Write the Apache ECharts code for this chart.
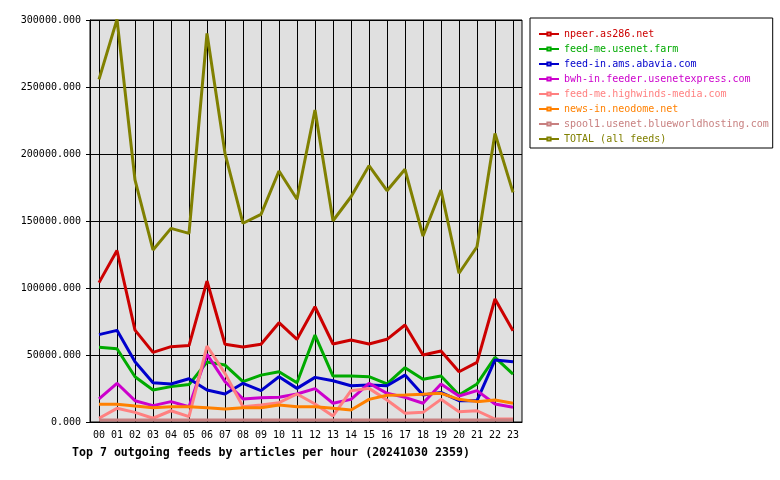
<!DOCTYPE html>
<html>
<head>
<meta charset="utf-8">
<script src="https://cdn.jsdelivr.net/npm/echarts@6/dist/echarts.min.js"></script>
<style>
html, body { margin: 0; padding: 0; background: #fff; }
#chart { width: 780px; height: 480px; }
</style>
</head>
<body>
<div id="chart"></div>
<script>
var hours = ['00','01','02','03','04','05','06','07','08','09','10','11',
             '12','13','14','15','16','17','18','19','20','21','22','23'];

var npeer    = [104000,128000,68600,52000,56200,57000,105200,58000,56000,58000,74100,61700,
                86000,58200,61200,58200,61700,72400,50000,53000,37500,44500,91800,68100];
var usenetFarm = [55700,54700,33800,23900,26400,27900,44800,42500,30100,35000,37500,29300,
                64900,34300,34300,33800,28400,40500,31900,34300,20100,28400,48300,35800];
var abavia   = [65200,68400,45000,29300,28400,32300,23900,20900,28900,23400,33800,25100,
                33300,30800,27100,27600,27100,35000,20100,22100,15900,15900,46300,45000];
var bwh      = [17200,28900,15900,12200,15200,11400,50500,30100,17200,18100,18400,20900,
                24900,14000,16900,28900,21400,18400,14000,28400,19400,23400,13400,11000];
var highwinds = [2800,10200,7200,2800,8400,4000,56700,36300,11400,12700,14400,20900,
                13400,4500,23400,25100,16400,6500,7200,16900,7700,8400,2200,2200];
var neodome  = [13200,13200,11900,10700,11400,11400,10700,9700,10700,10700,12700,11400,
                11400,10200,9000,16900,19900,20100,20700,21400,16900,15200,16400,14000];
var spool1   = [1500,1500,1500,1500,1500,1500,1500,1500,1500,1500,1500,1500,
                1500,1500,1500,1500,1500,1500,1500,1500,1500,1500,1500,1500];
var total    = [255700,300500,180600,128400,144500,140800,290000,200500,148300,155000,187300,166200,
                232800,150200,168100,191300,172600,188600,138800,173100,111000,130800,215400,171400];

var feedNames = ['npeer.as286.net','feed-me.usenet.farm','feed-in.ams.abavia.com',
                 'bwh-in.feeder.usenetexpress.com','feed-me.highwinds-media.com',
                 'news-in.neodome.net','spool1.usenet.blueworldhosting.com','TOTAL (all feeds)'];
var feedData = [npeer, usenetFarm, abavia, bwh, highwinds, neodome, spool1, total];
var feedColors = ['#cc0000','#00aa00','#0000cc','#cc00cc','#ff8080','#ff8000','#c88080','#808000'];

var mono = 'DejaVu Sans Mono';
var chart = echarts.init(document.getElementById('chart'));

var series = [];
var legendData = [];
for (var i = 0; i < feedNames.length; i++) {
    series.push({
        name: feedNames[i],
        type: 'line',
        xAxisIndex: 0,
        yAxisIndex: 0,
        data: feedData[i],
        symbol: 'emptyRect',
        symbolSize: 4,
        showSymbol: false,
        clip: false,
        color: feedColors[i],
        lineStyle: { width: 3, color: feedColors[i] }
    });
    legendData.push({ name: feedNames[i], textStyle: { color: feedColors[i] } });
}

chart.setOption({
    animation: false,
    title: {
        text: 'Top 7 outgoing feeds by articles per hour (20241030 2359)',
        left: 72,
        top: 447,
        padding: 0,
        textStyle: { fontFamily: mono, fontSize: 11.6, fontWeight: 'bold', color: '#000' }
    },
    legend: {
        orient: 'vertical',
        left: 530,
        top: 18,
        padding: [11, 4, 4, 8],
        borderColor: '#000',
        borderWidth: 1,
        itemWidth: 20,
        itemHeight: 4,
        itemGap: 5,
        textStyle: { fontFamily: mono, fontSize: 10 },
        data: legendData
    },
    grid: [
        { left: 90, top: 20, right: 258, bottom: 58, show: true, backgroundColor: '#e0e0e0', borderColor: '#000', borderWidth: 1 },
        // inner grid spanning the hour centres, only used for the vertical grid lines
        { left: 99, top: 20, right: 267, bottom: 58 }
    ],
    xAxis: [{
        type: 'category',
        gridIndex: 0,
        data: hours,
        boundaryGap: true,
        axisLine: { lineStyle: { color: '#000', width: 1 } },
        axisTick: { show: false },
        axisLabel: { fontFamily: mono, fontSize: 10, color: '#000', margin: 8, interval: 0 },
        splitLine: { show: false }
    }, {
        type: 'value',
        gridIndex: 1,
        min: 0,
        max: 23,
        interval: 1,
        axisLine: { show: false },
        axisTick: { show: false },
        axisLabel: { show: false },
        splitLine: { show: true, lineStyle: { color: '#000', width: 1 } }
    }],
    yAxis: [{
        type: 'value',
        gridIndex: 0,
        min: 0,
        max: 300000,
        interval: 50000,
        axisLine: { show: true, lineStyle: { color: '#000', width: 1 } },
        axisTick: { show: true, length: 4, lineStyle: { color: '#000' } },
        axisLabel: {
            fontFamily: mono, fontSize: 10, color: '#000', margin: 9,
            formatter: function (v) { return v.toFixed(3); }
        },
        splitLine: { show: true, lineStyle: { color: '#000', width: 1 } }
    }, {
        type: 'value',
        gridIndex: 1,
        min: 0,
        max: 300000,
        show: false
    }],
    series: series
});
</script>
</body>
</html>
